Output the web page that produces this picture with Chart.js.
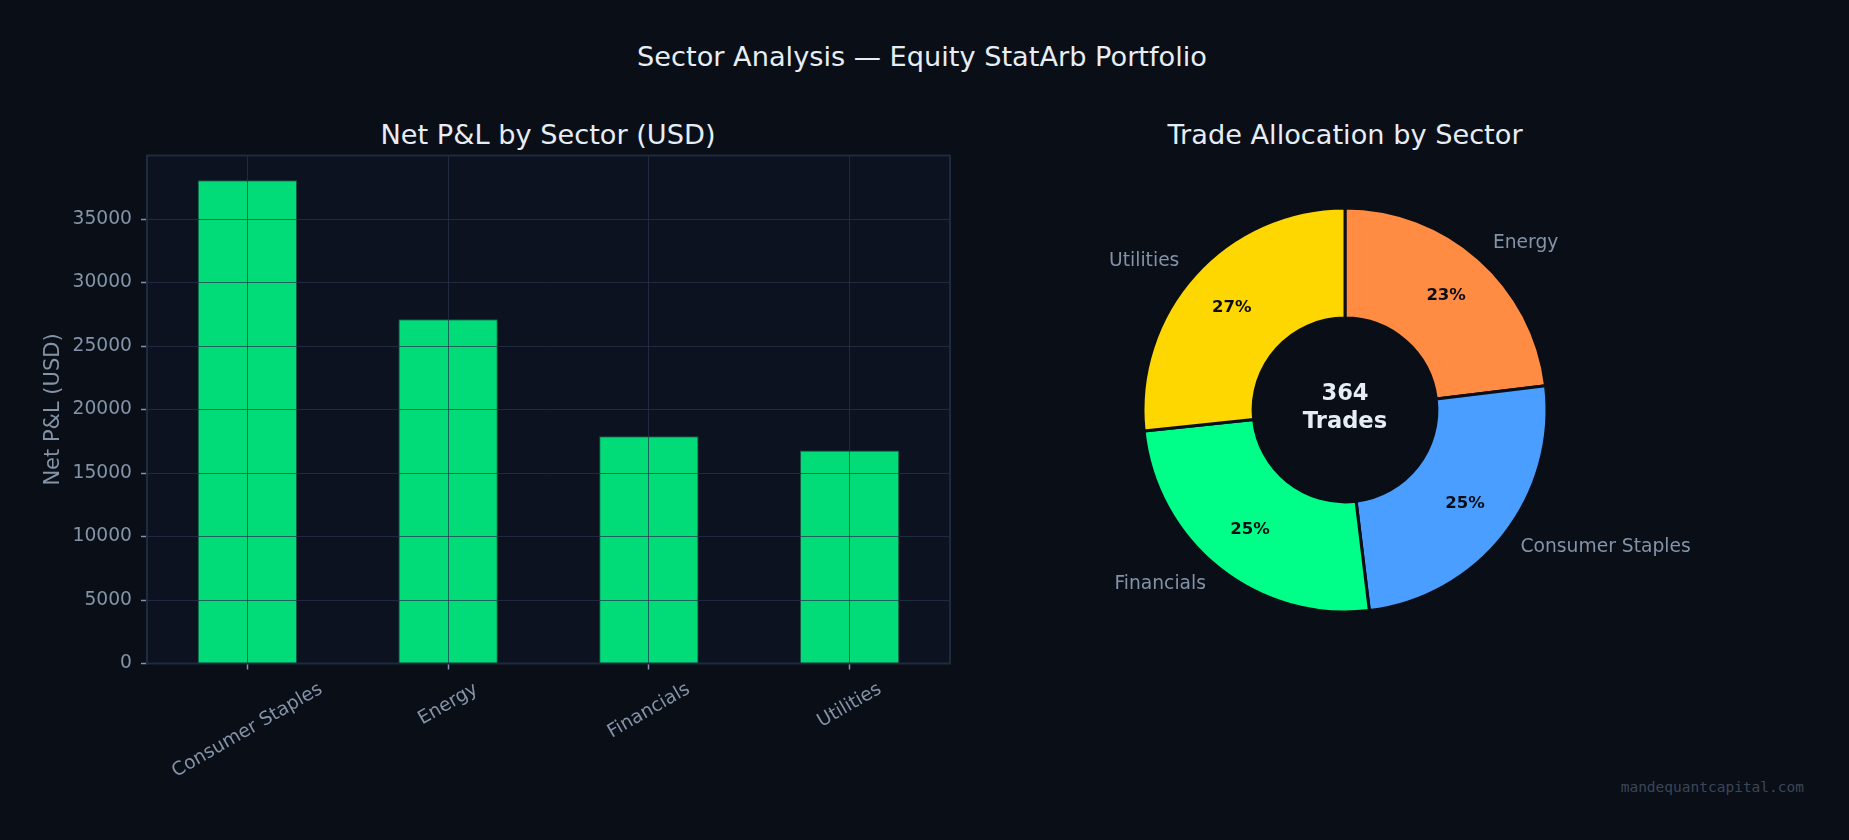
<!DOCTYPE html>
<html><head><meta charset="utf-8">
<script src="https://cdn.jsdelivr.net/npm/chart.js@4.4.1/dist/chart.umd.min.js"></script>
<style>
html,body{margin:0;padding:0;background:#0a0e17;width:1849px;height:840px;overflow:hidden;font-family:'DejaVu Sans',sans-serif;}
.t{position:absolute;white-space:nowrap;line-height:1;transform:translateX(-50%);color:#e6edf5;}
#wm{position:absolute;right:45px;top:780px;font-family:'DejaVu Sans Mono',monospace;font-size:14.5px;line-height:1;color:#3b4658;white-space:nowrap;}
canvas{position:absolute;}
</style></head><body>
<div class="t" style="left:922px;top:43px;font-size:27.2px">Sector Analysis — Equity StatArb Portfolio</div>
<div class="t" style="left:548px;top:121px;font-size:27.2px">Net P&amp;L by Sector (USD)</div>
<div class="t" style="left:1345px;top:121px;font-size:27.2px">Trade Allocation by Sector</div>
<div id="wm">mandequantcapital.com</div>
<canvas id="bar" width="980" height="840" style="left:0;top:0"></canvas>
<canvas id="pie" width="800" height="600" style="left:945px;top:110px"></canvas>
<script>
// ---- data ----
const pnlSectors = ['Consumer Staples', 'Energy', 'Financials', 'Utilities'];
const pnlValues = [38050, 27100, 17900, 16770];
const pnlYTicks = [0, 5000, 10000, 15000, 20000, 25000, 30000, 35000];
const pnlYMax = 40000;

const allocSectors = ['Energy', 'Consumer Staples', 'Financials', 'Utilities'];
const allocTrades = [84, 91, 92, 97];
const allocColors = ['#FF8C42', '#4A9EFF', '#00FF88', '#FFD700'];

const FONT = "'DejaVu Sans'";
const TXT = '#8393a8';
const BG = '#0a0e17';
const LBL = 18.7;

// ---- bar chart ----
const barFrame = {
  id: 'barFrame',
  beforeDraw(chart) {
    const {ctx, chartArea: a} = chart;
    ctx.save();
    ctx.fillStyle = '#0d1220';
    ctx.fillRect(a.left, a.top, a.right - a.left, a.bottom - a.top);
    ctx.restore();
  },
  afterDraw(chart) {
    const {ctx, chartArea: a} = chart;
    ctx.save();
    ctx.strokeStyle = '#1e2a3f';
    ctx.lineWidth = 2;
    ctx.strokeRect(a.left, a.top, a.right - a.left, a.bottom - a.top);
    // rotated x tick labels (bbox centered on tick, like matplotlib)
    const xs = chart.scales.x;
    ctx.font = LBL + 'px ' + FONT;
    ctx.fillStyle = TXT;
    ctx.textAlign = 'center';
    ctx.textBaseline = 'middle';
    const ang = 30 * Math.PI / 180;
    const h = LBL * 1.164;
    const top = a.bottom + 15;
    pnlSectors.forEach((lab, i) => {
      const x = xs.getPixelForTick(i);
      const w = ctx.measureText(lab).width;
      const bh = w * Math.sin(ang) + h * Math.cos(ang);
      const cy = top + bh / 2;
      ctx.save();
      ctx.translate(x, cy);
      ctx.rotate(-ang);
      ctx.fillText(lab, 0, 0);
      ctx.restore();
    });
    ctx.restore();
  }
};

new Chart(document.getElementById('bar'), {
  type: 'bar',
  data: {
    labels: pnlSectors,
    datasets: [{
      data: pnlValues,
      backgroundColor: 'rgba(0,255,136,0.85)',
      borderColor: '#1b5346',
      borderWidth: 1,
      barPercentage: 0.495,
      categoryPercentage: 1
    }]
  },
  options: {
    responsive: false,
    animation: false,
    events: [],
    layout: {padding: {top: 155.5, right: 30, left: 0, bottom: 0}},
    plugins: {legend: {display: false}, tooltip: {enabled: false}, title: {display: false}},
    scales: {
      x: {
        offset: true,
        grid: {offset: false, color: 'rgba(40,52,76,0.7)', lineWidth: 1, z: 1, drawTicks: true, tickLength: 6, tickColor: TXT, tickWidth: 1.5},
        border: {display: false},
        ticks: {display: false},
        afterFit(s) { s.height = 840 - 663.5; }
      },
      y: {
        min: 0, max: pnlYMax,
        grid: {color: 'rgba(40,52,76,0.7)', lineWidth: 1, z: 1, drawTicks: true, tickLength: 6, tickColor: TXT, tickWidth: 1.5},
        border: {display: false},
        afterBuildTicks(axis) { axis.ticks = pnlYTicks.map(v => ({value: v})); },
        ticks: {color: TXT, font: {family: FONT, size: LBL}, padding: 9, callback: v => String(v)},
        title: {display: true, text: 'Net P&L (USD)', color: TXT, font: {family: FONT, size: 21}, padding: {top: 40.5, bottom: 0}},
        afterFit(s) { s.width = 147; }
      }
    }
  },
  plugins: [barFrame]
});

// ---- doughnut ----
const pieLabels = {
  id: 'pieLabels',
  afterDatasetsDraw(chart) {
    const {ctx} = chart;
    const arcs = chart.getDatasetMeta(0).data;
    const total = allocTrades.reduce((s, v) => s + v, 0);
    ctx.save();
    arcs.forEach((arc, i) => {
      const p = arc.getProps(['x', 'y', 'startAngle', 'endAngle', 'outerRadius', 'innerRadius'], true);
      const mid = (p.startAngle + p.endAngle) / 2;
      const c = Math.cos(mid), s = Math.sin(mid);
      // percentage
      const rp = p.outerRadius * 0.755;
      ctx.font = 'bold 16.5px ' + FONT;
      ctx.fillStyle = '#0a0e17';
      ctx.textAlign = 'center';
      ctx.textBaseline = 'middle';
      ctx.fillText(Math.round(allocTrades[i] / total * 100) + '%', p.x + rp * c, p.y + rp * s);
      // outer label
      const ro = p.outerRadius * 1.104;
      ctx.font = LBL + 'px ' + FONT;
      ctx.fillStyle = TXT;
      ctx.textAlign = c >= 0 ? 'left' : 'right';
      ctx.fillText(allocSectors[i], p.x + ro * c, p.y + ro * s);
    });
    const a0 = arcs[0];
    ctx.font = 'bold 22.6px ' + FONT;
    ctx.fillStyle = '#e6edf5';
    ctx.textAlign = 'center';
    ctx.textBaseline = 'middle';
    ctx.fillText(String(total), a0.x, a0.y - 15.5);
    ctx.fillText('Trades', a0.x, a0.y + 12.2);
    ctx.restore();
  }
};

new Chart(document.getElementById('pie'), {
  type: 'doughnut',
  data: {
    labels: allocSectors,
    datasets: [{
      data: allocTrades,
      backgroundColor: allocColors,
      borderColor: BG,
      borderWidth: 3
    }]
  },
  options: {
    responsive: false,
    animation: false,
    events: [],
    radius: 202,
    cutout: '45.5%',
    layout: {padding: 0},
    plugins: {legend: {display: false}, tooltip: {enabled: false}}
  },
  plugins: [pieLabels]
});
</script>
</body></html>
